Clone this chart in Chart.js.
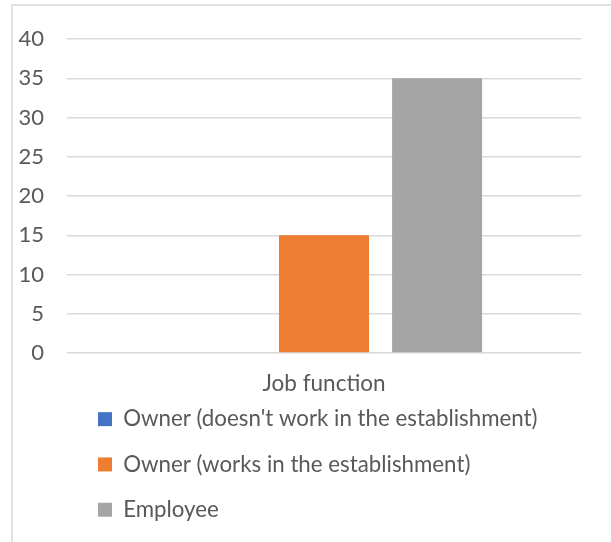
<!DOCTYPE html>
<html>
<head>
<meta charset="utf-8">
<script src="https://cdn.jsdelivr.net/npm/chart.js@4.4.1/dist/chart.umd.min.js"></script>
<style>
  html, body { margin: 0; padding: 0; background: #ffffff; }
  #frame { position: absolute; left: 11px; top: 4px; width: 800px; height: 800px;
           border-left: 2px solid #e2e2e2; border-top: 2px solid #e2e2e2; }
  #wrap { position: absolute; left: 0; top: 0; width: 611px; height: 542px; }
</style>
</head>
<body>
<div id="frame"></div>
<div id="wrap"><canvas id="c" width="611" height="542"></canvas></div>
<script>
const categories = ['Job function'];
const seriesNames = ["Owner (doesn't work in the establishment)", 'Owner (works in the establishment)', 'Employee'];
const ownerNotWorking = [0];
const ownerWorking = [15];
const employee = [35];
const yTickValues = [0, 5, 10, 15, 20, 25, 30, 35, 40];
const seriesColors = ['#4472C4', '#ED7D31', '#A5A5A5'];

const FONT = 'Lato, "Open Sans", sans-serif';
const TEXT = '#595959';
const LEGEND_H = 144;

const legendPlace = {
  id: 'legendPlace',
  beforeLayout(chart) {
    const lg = chart.legend;
    if (lg && !lg._patched) {
      const orig = lg.fit.bind(lg);
      lg.fit = function () { orig(); this.height = LEGEND_H; };
      lg._patched = true;
    }
  },
  afterLayout(chart) {
    const lg = chart.legend;
    if (lg) {
      lg.left = 75;
      lg.right = 611;
      lg.top = 385;
      lg.bottom = 542;
    }
  }
};

const seriesValues = [ownerNotWorking, ownerWorking, employee];

new Chart(document.getElementById('c'), {
  type: 'bar',
  data: {
    labels: categories,
    datasets: seriesNames.map((name, i) => ({
      label: name,
      data: seriesValues[i],
      backgroundColor: seriesColors[i],
      borderWidth: 0,
      categoryPercentage: 0.66,
      barPercentage: 0.796
    }))
  },
  options: {
    responsive: false,
    animation: false,
    devicePixelRatio: 1,
    layout: { padding: { left: 0, right: 30, top: 39, bottom: 0 } },
    plugins: {
      tooltip: { enabled: false },
      legend: {
        position: 'bottom',
        align: 'start',
        labels: {
          boxWidth: 14,
          boxHeight: 14,
          padding: 23,
          color: TEXT,
          font: { family: FONT, size: 22.3 }
        }
      }
    },
    scales: {
      x: {
        grid: { display: false, drawTicks: false },
        border: { display: false },
        ticks: { padding: 17, color: TEXT, font: { family: FONT, size: 22.5 } },
        afterFit(s) { s.height = 45; }
      },
      y: {
        min: 0,
        max: 40,
        afterBuildTicks(s) { s.ticks = yTickValues.map(v => ({ value: v })); },
        ticks: { padding: 23, color: TEXT, font: { family: FONT, size: 22 } },
        grid: { color: '#d9d9d9', lineWidth: 1.5, drawTicks: false },
        border: { display: false },
        afterFit(s) { s.width = 67; }
      }
    }
  },
  plugins: [legendPlace]
});
</script>
</body>
</html>
